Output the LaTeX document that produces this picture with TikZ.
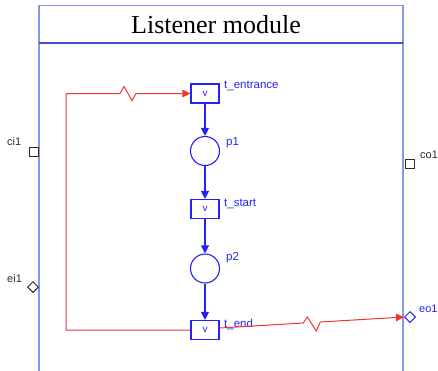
\documentclass[tikz,border=0pt]{standalone}
\usepackage{fontspec}
\setmainfont{Liberation Serif}
\setsansfont{Liberation Sans}
\usetikzlibrary{arrows.meta,calc,shapes.geometric}
\definecolor{frameblue}{RGB}{140,150,230}
\definecolor{headblue}{RGB}{60,80,205}
\definecolor{netblue}{RGB}{35,35,245}
\definecolor{arcred}{RGB}{245,50,50}
\definecolor{portgray}{RGB}{45,45,45}
\begin{document}
\begin{tikzpicture}[x=1pt,y=-1pt,
  trans/.style={draw=netblue, line width=1.1pt, minimum width=28pt, minimum height=19pt, inner sep=0pt, font=\sffamily\fontsize{10}{10}\selectfont, text=netblue},
  place/.style={circle, draw=netblue, line width=1.1pt, minimum size=29pt, inner sep=0pt},
  lbl/.style={anchor=base west, font=\sffamily\fontsize{11.5}{11.5}\selectfont, inner sep=0pt},
  plbl/.style={anchor=base west, font=\sffamily\fontsize{11}{11}\selectfont, inner sep=0pt},
  netarc/.style={draw=netblue, line width=1.1pt, -{Triangle[length=8pt,width=8pt]}},
  redarc/.style={draw=arcred, line width=1pt, -{Triangle[length=8pt,width=7.5pt]}},
  sqport/.style={draw, rectangle, line width=1pt, minimum size=9pt, inner sep=0pt},
  dport/.style={draw, diamond, line width=1pt, minimum size=11pt, inner sep=0pt}
]
\useasboundingbox (0,0) rectangle (438,370);
% frame
\draw[frameblue, line width=1.3pt] (39,375) -- (39,5.3) -- (403,5.3) -- (403,375);
\draw[headblue, line width=1.6pt] (39,42.7) -- (403,42.7);
\node[anchor=base, inner sep=0pt, font=\fontsize{26}{26}\selectfont] (title) at (216,33.3) {Listener module};
% net
\node[trans] (tent) at (205,93.5) {v};
\node[place] (p1) at (205,151) {};
\node[trans] (tstart) at (205,209) {v};
\node[place] (p2) at (205,268.5) {};
\node[trans] (tend) at (205,330) {v};
\node[lbl, text=netblue] (ltent) at (224,88) {t\_entrance};
\node[lbl, text=netblue] (lp1) at (226,145) {p1};
\node[lbl, text=netblue] (ltstart) at (224,206.7) {t\_start};
\node[lbl, text=netblue] (lp2) at (226,260.7) {p2};
\node[lbl, text=netblue] (ltend) at (224,327) {t\_end};
\draw[netarc] (tent) -- (p1);
\draw[netarc] (p1) -- (tstart);
\draw[netarc] (tstart) -- (p2);
\draw[netarc] (p2) -- (tend);
% ports
\node[sqport, draw=portgray] (ci1) at (33.5,152.3) {};
\node[dport, draw=portgray] (ei1) at (33,287) {};
\node[sqport, draw=portgray] (co1) at (410,164.3) {};
\node[dport, draw=netblue] (eo1) at (410,317) {};
\node[plbl, text=portgray] (lci1) at (7,145) {ci1};
\node[plbl, text=portgray] (lei1) at (7,282.7) {ei1};
\node[plbl, text=portgray] (lco1) at (420,158.3) {co1};
\node[plbl, text=netblue] (leo1) at (419,312.3) {eo1};
% red arcs
\coordinate (r1) at (66,330);
\coordinate (r2) at (66,93.5);
\draw[redarc] (tend.west) -- (r1) -- (r2) -- ++(54,0) -- ++(4,-7) -- ++(8,14) -- ++(4,-7) -- (tent.west);
\coordinate (s2) at ([yshift=2pt]tend.east);
\draw[redarc] (s2) -- ($(s2)!0.454!(eo1.west)$) -- ++(4,-6) -- ++(9,14) -- ++(4,-9) -- (eo1.west);
\end{tikzpicture}
\end{document}
